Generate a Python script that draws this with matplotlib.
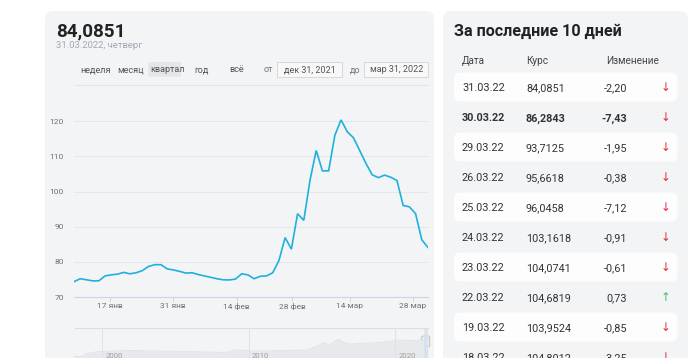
import matplotlib
matplotlib.use('Agg')
import matplotlib.pyplot as plt
from matplotlib.patches import FancyBboxPatch, Rectangle

plt.rcParams['font.family'] = ['Roboto', 'DejaVu Sans']

# USD rate, one value per trading day (31.12.2021 - 31.03.2022)
usd_rate = [74.36, 75.2, 74.9, 74.6, 74.6, 76.0, 76.3, 76.5, 77.0, 76.6,
            76.9, 77.5, 78.7, 79.2, 79.2, 78.0, 77.7, 77.3, 76.8, 76.9,
            76.4, 76.0, 75.6, 75.2, 74.9, 74.85, 75.1, 76.6, 76.3, 75.2,
            75.9, 76.0, 76.9, 80.4, 86.9, 83.6, 93.7, 91.8, 103.2, 111.7,
            105.9, 105.9, 116.0, 120.4, 117.0, 115.3, 111.7, 108.05, 104.8012, 103.9524,
            104.6819, 104.0741, 103.1618, 96.0458, 95.6618, 93.7125, 86.2843, 84.0851]

tick_pos = [5.8, 15.9, 26.2, 35.15, 44.4, 54.54]
tick_labels = ['17 янв', '31 янв', '14 фев', '28 фев', '14 мар', '28 мар']
y_ticks = [70, 80, 90, 100, 110, 120]

# navigator (long history, rough yearly values)
nav_years = [1998.0, 1998.6, 1998.8, 1999.5, 2000, 2001, 2002, 2003, 2004, 2005,
             2006, 2007, 2008.5, 2009.1, 2010, 2011, 2012, 2013, 2014.0, 2014.9,
             2015.1, 2015.5, 2016.1, 2016.5, 2017, 2018, 2019, 2020.3, 2021, 2022.0,
             2022.2, 2022.25]
nav_values = [6, 7, 16, 25, 28, 29.5, 31.5, 30, 28.5, 28,
              27, 25, 23.5, 35, 30, 29, 31, 32, 33, 56,
              65, 55, 78, 65, 58, 62, 65, 75, 73, 76,
              115, 85]
nav_labels = [2000, 2010, 2020]

# last 10 days table
table_dates = ['31.03.22', '30.03.22', '29.03.22', '26.03.22', '25.03.22',
               '24.03.22', '23.03.22', '22.03.22', '19.03.22', '18.03.22']
table_rates = [84.0851, 86.2843, 93.7125, 95.6618, 96.0458,
               103.1618, 104.0741, 104.6819, 103.9524, 104.8012]
table_changes = [-2.20, -7.43, -1.95, -0.38, -7.12, -0.91, -0.61, 0.73, -0.85, -3.25]

periods = ['неделя', 'месяц', 'квартал', 'год', 'всё']
period_x = [80.7, 117.7, 150, 194, 229]

W, H = 700, 358
fig = plt.figure(figsize=(W / 100, H / 100), dpi=100)
fig.patch.set_facecolor('white')


def px_axes(x0, y0, x1, y1):
    return fig.add_axes([x0 / W, 1 - y1 / H, (x1 - x0) / W, (y1 - y0) / H])


# background layer in pixel coordinates
bg = fig.add_axes([0, 0, 1, 1])
bg.set_xlim(0, W)
bg.set_ylim(H, 0)
bg.axis('off')

card = '#f3f4f6'
bg.add_patch(FancyBboxPatch((45, 11), 389, 380, boxstyle='round,pad=0,rounding_size=8',
                            fc=card, ec='none'))
bg.add_patch(FancyBboxPatch((443, 11), 245, 380, boxstyle='round,pad=0,rounding_size=8',
                            fc=card, ec='none'))

# header of left card
bg.text(56, 36, '84,0851', fontsize=13.6, fontweight='bold', color='#222222')
bg.text(56, 48.5, '31.03.2022, четверг', fontsize=6.8, color='#a3a6b8')

bg.add_patch(FancyBboxPatch((148.3, 62), 32.7, 14.7, boxstyle='round,pad=0,rounding_size=1.5',
                            fc='#e4e6ea', ec='none'))
for name, x in zip(periods, period_x):
    bg.text(x, 72.3, name, fontsize=6.5, color='#555555')
bg.text(264, 72.3, 'от', fontsize=6.5, color='#777777')
bg.text(349.3, 72.3, 'до', fontsize=6.5, color='#777777')
for x0, label in [(277.3, 'дек 31, 2021'), (364, 'мар 31, 2022')]:
    bg.add_patch(Rectangle((x0, 62), 64.3, 14.7, fc='#f8f8f9', ec='#d6d8dc', lw=0.7))
    bg.text(x0 + 32.2, 72.3, label, fontsize=6.5, color='#555555', ha='center')
bg.plot([75, 428], [85, 85], color='#e2e4e8', lw=0.7)

# right card: table
bg.text(454, 36.3, 'За последние 10 дней', fontsize=11.6, fontweight='bold', color='#222222')
bg.text(462, 64, 'Дата', fontsize=7.2, color='#444444')
bg.text(526, 64, 'Курс', fontsize=7.2, color='#444444')
bg.text(606, 64, 'Изменение', fontsize=7.2, color='#444444')

for i, (d, r, c) in enumerate(zip(table_dates, table_rates, table_changes)):
    yc = 87 + 30 * i
    if i % 2 == 0:
        bg.add_patch(FancyBboxPatch((454, yc - 14.5), 223.3, 29,
                                    boxstyle='round,pad=0,rounding_size=6',
                                    fc='#fdfdfd', ec='none'))
    weight = 'bold' if i == 1 else 'normal'
    base = yc + 4.3
    bg.text(462, base, d, fontsize=7.8, color='#333333', fontweight=weight)
    bg.text(526, base, f'{r:.4f}'.replace('.', ','), fontsize=7.8, color='#333333',
            fontweight=weight)
    bg.text(627.3, base, f'{c:.2f}'.replace('.', ','), fontsize=7.8, color='#333333',
            fontweight=weight, ha='right')
    arrow = '↑' if c > 0 else '↓'
    bg.text(665.7, yc + 0.5, arrow, fontsize=8.5, ha='center', va='center',
            color='#4cbb68' if c > 0 else '#e8303a', family='DejaVu Sans')

# main chart
ax = px_axes(74, 100.2, 428, 297)
ax.patch.set_alpha(0)
x = list(range(len(usd_rate)))
ax.plot(x, usd_rate, color='#1fb0dd', lw=1.2, solid_joinstyle='miter')
ax.set_xlim(0, len(usd_rate) - 1)
ax.set_ylim(70, 126)
ax.set_yticks(y_ticks)
ax.set_xticks(tick_pos)
ax.set_xticklabels(tick_labels)
ax.grid(axis='y', color='#e6e7ea', lw=0.7)
for s in ['top', 'right', 'left']:
    ax.spines[s].set_visible(False)
ax.spines['bottom'].set_color('#ccd6eb')
ax.spines['bottom'].set_linewidth(0.9)
ax.tick_params(axis='y', length=0, pad=7.2, labelsize=6, labelcolor='#707070')
ax.tick_params(axis='x', length=3.6, width=0.7, color='#ccd6eb', pad=0.8,
               labelsize=6, labelcolor='#707070')

# navigator
nav = px_axes(74, 328, 428, 358)
nav.patch.set_alpha(0)
nav.fill_between(nav_years, nav_values, color='#e7e9ed', lw=0)
nav.plot(nav_years, nav_values, color='#dfe2e6', lw=0.6)
nav.set_xlim(1998.06, 2022.26)
nav.set_ylim(0, 125)
nav.axis('off')
for yr in nav_labels:
    nav.axvline(yr, color='#dfe2e7', lw=0.8)
    nav.text(yr + 0.22, 8, str(yr), fontsize=5.6, color='#a0a0a0', va='center')
nav.axvspan(2022.0, 2022.26, color='#c9dcf3', alpha=0.5, lw=0)
bg.plot([75, 428], [328, 328], color='#dadee5', lw=0.8)
bg.add_patch(FancyBboxPatch((421.7, 336), 8, 11, boxstyle='round,pad=0,rounding_size=1.5',
                            fc='#f2f2f2', ec='#b8b8b8', lw=0.6))
bg.plot([424.7, 424.7], [338.5, 344.5], color='#b8b8b8', lw=0.5)
bg.plot([426.7, 426.7], [338.5, 344.5], color='#b8b8b8', lw=0.5)

fig.savefig('out.png', dpi=100)
